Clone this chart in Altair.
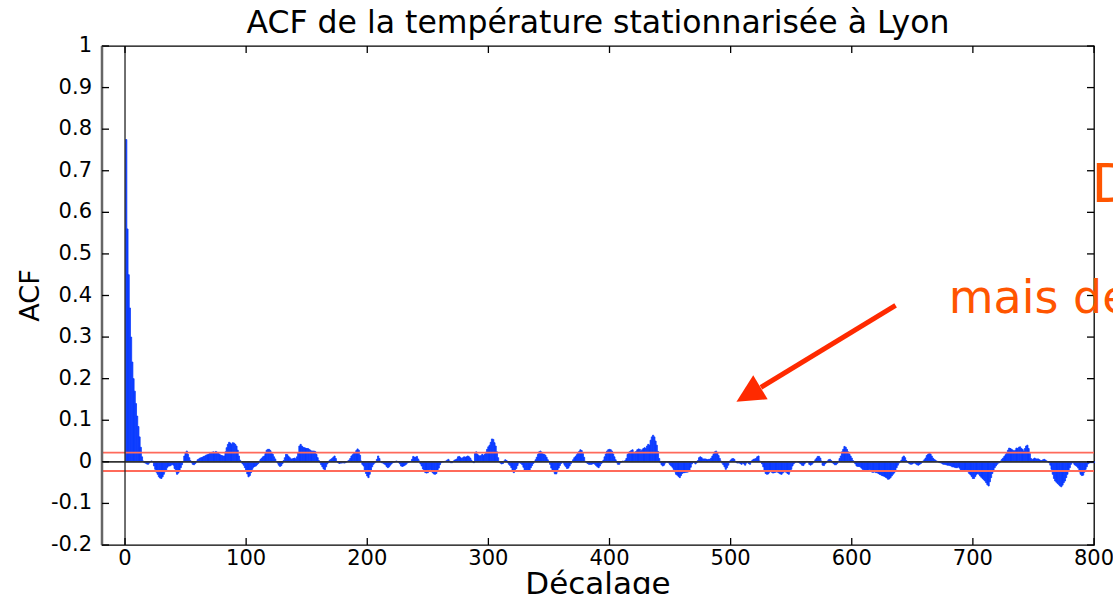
import altair as alt
import pandas as pd

# Autocorrelation of the stationarised Lyon temperature, lags 1..800 (x 1/1000)
acf_001_100 = [
    775, 560, 450, 370, 300, 240, 200, 170, 140, 110,
    85, 60, 35, 12, 2, -2, -3, -5, -6, -3,
    1, 2, 0, -10, -18, -25, -30, -36, -39, -40,
    -36, -30, -24, -19, -13, -10, -10, -8, -6, -8,
    -16, -24, -30, -27, -20, -14, -7, 0, 14, 22,
    26, 18, 10, 3, -2, -6, -7, -4, 0, 5,
    7, 9, 10, 11, 13, 14, 16, 17, 18, 20,
    21, 23, 24, 22, 25, 23, 21, 18, 16, 15,
    14, 14, 24, 34, 42, 47, 45, 42, 46, 45,
    42, 38, 28, 14, 4, 0, -4, -8, -14, -22,
]
acf_101_200 = [
    -29, -36, -33, -26, -18, -13, -11, -10, -7, -4,
    2, 6, 9, 12, 14, 20, 28, 30, 30, 27,
    23, 18, 12, 7, 1, -3, -8, -11, -9, -4,
    3, 10, 18, 17, 13, 10, 7, 7, 8, 9,
    7, 12, 22, 38, 42, 38, 35, 34, 33, 32,
    32, 30, 28, 26, 26, 26, 25, 18, 10, 3,
    -2, -7, -12, -17, -19, -12, -5, -1, 4, 6,
    8, 11, 14, 8, 1, -2, -4, -3, -3, -2,
    -3, -2, 0, 2, 4, 8, 14, 17, 20, 22,
    27, 31, 28, 16, 2, -6, -10, -20, -28, -34,
]
acf_201_300 = [
    -38, -30, -20, -12, -6, -3, 0, 6, 14, 8,
    1, -2, -3, -5, -7, -11, -14, -12, -8, -5,
    -2, -1, 0, 2, 1, -1, -5, -10, -11, -10,
    -8, -6, -3, -1, 0, 1, 6, 13, 11, 11,
    13, 7, 2, -5, -10, -17, -23, -26, -27, -26,
    -22, -18, -21, -26, -29, -30, -28, -22, -15, -7,
    -2, 0, 0, 1, 2, 4, 6, 2, -2, -2,
    1, 4, 5, 7, 12, 13, 10, 8, 10, 12,
    11, 12, 14, 12, 9, 4, 0, -2, 20, 24,
    18, 15, 14, 15, 18, 15, 18, 23, 30, 36,
]
acf_301_400 = [
    40, 47, 55, 54, 46, 38, 24, 10, 0, -3,
    -5, -4, 2, 5, 3, -2, -6, -9, -14, -20,
    -26, -22, -16, -9, -3, -2, -4, -7, -13, -20,
    -22, -22, -22, -20, -14, -9, -4, 0, 5, 11,
    18, 24, 26, 23, 19, 18, 16, 11, 5, 1,
    -6, -15, -20, -24, -29, -29, -24, -15, -9, -4,
    0, -3, -8, -12, -16, -15, -10, -5, 0, 5,
    10, 13, 17, 21, 25, 29, 27, 20, 11, 1,
    -2, -4, -6, -6, -6, -5, -4, -6, -9, -12,
    -14, -10, -5, -2, 4, 12, 19, 26, 29, 30,
]
acf_401_500 = [
    29, 26, 19, 12, 5, -2, -6, -6, -2, 0,
    2, 1, 3, 8, 18, 23, 25, 27, 29, 23,
    23, 25, 29, 31, 30, 26, 29, 32, 34, 32,
    38, 42, 40, 52, 60, 64, 60, 50, 40, 25,
    8, -2, -7, -10, -8, -3, 0, -1, -3, -7,
    -10, -13, -18, -24, -30, -32, -35, -38, -33, -28,
    -26, -26, -25, -25, -24, -22, -13, -5, -1, -2,
    -5, -2, 3, 10, 12, 10, 7, 7, 7, 6,
    5, 6, 6, 9, 14, 19, 24, 26, 22, 15,
    8, 2, -3, -7, -12, -18, -14, -8, -1, 4,
]
acf_501_600 = [
    7, 8, 6, 1, -2, -3, -2, -4, -6, -3,
    -5, -8, -3, 0, -4, -6, 0, 4, 6, 7,
    8, 12, 14, 2, 0, -5, -12, -20, -28, -30,
    -29, -25, -22, -25, -27, -26, -25, -24, -25, -27,
    -29, -30, -27, -24, -24, -25, -28, -30, -24, -18,
    -10, -5, -2, 0, 0, -1, -3, -5, -8, -9,
    -5, -1, 1, 0, -6, -8, -6, -3, 0, 5,
    9, 13, 13, 9, 2, -8, -9, -5, -2, 2,
    5, 6, 3, -2, -4, -7, -7, -4, 1, 8,
    14, 24, 30, 37, 35, 30, 24, 19, 14, 9,
]
acf_601_700 = [
    3, -1, -5, -10, -11, -11, -12, -15, -18, -19,
    -20, -22, -20, -19, -18, -21, -25, -25, -24, -26,
    -26, -28, -30, -31, -33, -34, -35, -37, -39, -42,
    -41, -38, -34, -30, -27, -20, -14, -8, -3, 0,
    4, 11, 14, 10, 3, 0, -3, -5, -6, -5,
    -3, -3, -5, -7, -8, -6, -4, -1, 2, 5,
    9, 15, 18, 20, 19, 14, 9, 6, 4, 2,
    1, -1, -2, -3, -5, -6, -6, -7, -8, -8,
    -9, -10, -12, -12, -13, -14, -14, -12, -15, -19,
    -22, -22, -20, -19, -20, -24, -28, -31, -35, -40,
]
acf_701_800 = [
    -40, -35, -30, -28, -30, -34, -37, -40, -43, -46,
    -50, -55, -58, -48, -38, -28, -20, -14, -10, -6,
    -3, -2, 2, 6, 9, 13, 17, 22, 28, 33,
    32, 30, 28, 26, 28, 33, 32, 35, 36, 32,
    30, 26, 32, 38, 40, 32, 20, 8, 5, 7,
    9, 7, 7, 7, 5, 3, 3, 5, 6, 4,
    2, 0, -2, -8, -18, -30, -40, -46, -49, -52,
    -55, -58, -60, -56, -50, -46, -38, -30, -22, -14,
    -6, -2, -3, -7, -9, -11, -15, -24, -30, -33,
    -32, -25, -18, -12, -5, -3, -2, -2, -2, -2,
]

acf_milli = (acf_001_100 + acf_101_200 + acf_201_300 + acf_301_400
             + acf_401_500 + acf_501_600 + acf_601_700 + acf_701_800)
lags = list(range(1, len(acf_milli) + 1))
acf = [v / 1000 for v in acf_milli]

conf_bound = 0.022          # +/- 1.96 / sqrt(N) significance band
x_ticks = [0, 100, 200, 300, 400, 500, 600, 700, 800]
x_tick_labels = ["0", "100", "200", "300", "400", "500", "600", "700", "800"]
y_ticks = [-0.2, -0.1, 0, 0.1, 0.2, 0.3, 0.4, 0.5, 0.6, 0.7, 0.8, 0.9, 1]
y_tick_labels = ["-0.2", "-0.1", "0", "0.1", "0.2", "0.3", "0.4", "0.5",
                 "0.6", "0.7", "0.8", "0.9", "1"]

title_text = "ACF de la température stationnarisée à Lyon"
x_title = "Décalage"
y_title = "ACF"
note_top = "D"
note_mid = "mais de"

FONT = "DejaVu Sans"
BLUE = "#0b3bff"
BAND = "#ff6a5a"
ORANGE = "#ff5500"
ARROW = "#ff2a00"

W, H = 992, 499
xs = alt.Scale(domain=[-19, 800], nice=False, zero=False)
ys = alt.Scale(domain=[-0.2, 1], nice=False, zero=False)

df = pd.DataFrame({"lag": lags, "acf": acf})

# ACF bars, one per lag, drawn from zero
bars = (
    alt.Chart(df)
    .transform_calculate(x0="datum.lag - 0.5", x1="datum.lag + 0.5", base="0")
    .mark_rect(color=BLUE, stroke=BLUE, strokeWidth=0.8)
    .encode(
        x=alt.X("x0:Q", scale=xs, axis=None),
        x2="x1:Q",
        y=alt.Y("acf:Q", scale=ys, axis=None),
        y2="base:Q",
    )
)

zero_line = alt.Chart(pd.DataFrame({"v": [0]})).mark_rule(
    color="#333", strokeWidth=1.8).encode(y=alt.Y("v:Q", scale=ys, axis=None))
band = alt.Chart(pd.DataFrame({"v": [conf_bound, -conf_bound]})).mark_rule(
    color=BAND, strokeWidth=1.8).encode(y=alt.Y("v:Q", scale=ys, axis=None))
lag0_line = alt.Chart(pd.DataFrame({"v": [0]})).mark_rule(
    color="#222", strokeWidth=1.3).encode(x=alt.X("v:Q", scale=xs, axis=None))
left_edge = alt.Chart(pd.DataFrame({"v": [0]})).mark_rule(
    color="#666", strokeWidth=2.5).encode(x=alt.value(0), y=alt.value(0), y2=alt.value(H))

# inward tick marks on all four sides of the box
xt = pd.DataFrame({"t": x_ticks, "lab": x_tick_labels})
yt = pd.DataFrame({"t": y_ticks, "lab": y_tick_labels})
tick_bottom = alt.Chart(xt).mark_rule(color="black", strokeWidth=1.3).encode(
    x=alt.X("t:Q", scale=xs, axis=None), y=alt.value(H), y2=alt.value(H - 7))
tick_top = alt.Chart(xt).mark_rule(color="black", strokeWidth=1.3).encode(
    x=alt.X("t:Q", scale=xs, axis=None), y=alt.value(0), y2=alt.value(7))
tick_left = alt.Chart(yt).mark_rule(color="black", strokeWidth=1.3).encode(
    y=alt.Y("t:Q", scale=ys, axis=None), x=alt.value(0), x2=alt.value(7))
tick_right = alt.Chart(yt).mark_rule(color="black", strokeWidth=1.3).encode(
    y=alt.Y("t:Q", scale=ys, axis=None), x=alt.value(W), x2=alt.value(W - 7))

# tick labels
x_labels = alt.Chart(xt).mark_text(
    font=FONT, fontSize=21, color="black", align="center", baseline="alphabetic"
).encode(x=alt.X("t:Q", scale=xs, axis=None), y=alt.value(H + 20), text="lab:N")
y_labels = alt.Chart(yt).mark_text(
    font=FONT, fontSize=21, color="black", align="right", baseline="middle"
).encode(y=alt.Y("t:Q", scale=ys, axis=None), x=alt.value(-10), text="lab:N")

# chart title and axis titles
title = alt.Chart(pd.DataFrame({"s": [title_text]})).mark_text(
    font=FONT, fontSize=31.5, color="black", align="center", baseline="alphabetic"
).encode(text="s:N", x=alt.value(W / 2), y=alt.value(-13))
x_name = alt.Chart(pd.DataFrame({"s": [x_title]})).mark_text(
    font=FONT, fontSize=31, color="black", align="center", baseline="alphabetic"
).encode(text="s:N", x=alt.value(W / 2), y=alt.value(H + 49))
y_name = alt.Chart(pd.DataFrame({"s": [y_title]})).mark_text(
    font=FONT, fontSize=27, color="black", align="center", baseline="middle", angle=270
).encode(text="s:N", x=alt.value(-71), y=alt.value(H / 2))

# handwritten-style annotation with its arrow (placed in data coordinates)
notes = pd.DataFrame({
    "s": [note_top, note_mid],
    "nx": [798, 680],
    "ny": [0.626, 0.359],
    "fs": [54, 46],
})
note_text = alt.Chart(notes).mark_text(
    font=FONT, color=ORANGE, align="left", baseline="alphabetic"
).encode(
    text="s:N",
    x=alt.X("nx:Q", scale=xs, axis=None),
    y=alt.Y("ny:Q", scale=ys, axis=None),
    size=alt.Size("fs:Q", scale=None, legend=None),
)

arrow = pd.DataFrame({"ax": [636.2], "ay": [0.376], "bx": [525.0], "by": [0.179],
                      "hx": [514.7], "hy": [0.162]})
arrow_shaft = alt.Chart(arrow).mark_rule(color=ARROW, strokeWidth=5).encode(
    x=alt.X("ax:Q", scale=xs, axis=None), y=alt.Y("ay:Q", scale=ys, axis=None),
    x2="bx:Q", y2="by:Q")
arrow_head = alt.Chart(arrow).mark_point(
    shape="M0,-1L1,1L-1,1Z", filled=True, size=784, angle=239, color=ARROW, opacity=1
).encode(x=alt.X("hx:Q", scale=xs, axis=None), y=alt.Y("hy:Q", scale=ys, axis=None))

chart = (
    alt.layer(bars, band, zero_line, lag0_line, left_edge,
              tick_bottom, tick_top, tick_left, tick_right,
              x_labels, y_labels, title, x_name, y_name,
              note_text, arrow_shaft, arrow_head)
    .properties(
        width=W, height=H,
        autosize=alt.AutoSizeParams(type="none"),
        padding={"left": 102, "top": 46, "right": 19, "bottom": 49},
        background="white",
    )
    .configure_view(stroke="black", strokeWidth=1.3)
)

chart.save("out.html", embed_options={"renderer": "svg", "actions": False})
